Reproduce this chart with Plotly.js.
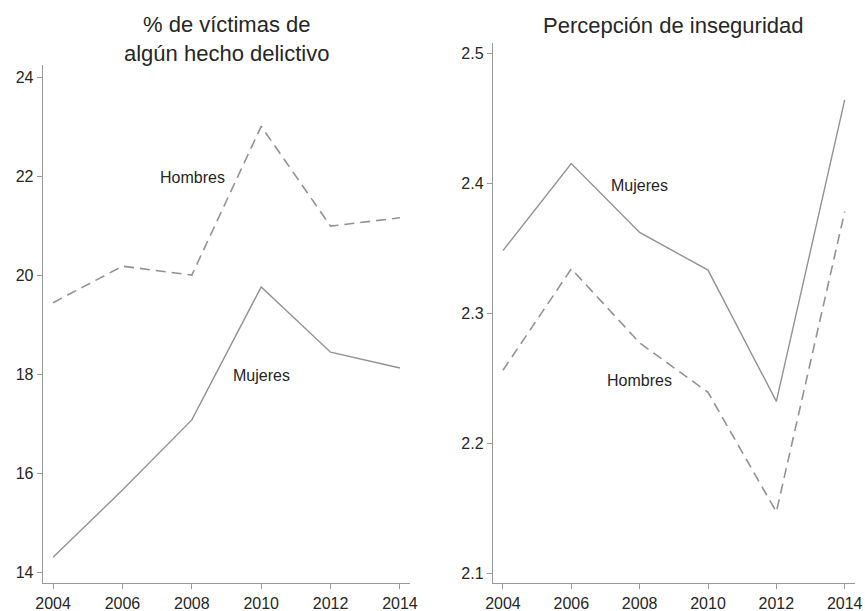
<!DOCTYPE html>
<html>
<head>
<meta charset="utf-8">
<script src="https://cdn.plot.ly/plotly-3.0.1.min.js"></script>
<style>html,body{margin:0;padding:0;background:#fff;}#chart{width:865px;height:611px;}</style>
</head>
<body>
<div id="chart"></div>
<script>
const years = [2004, 2006, 2008, 2010, 2012, 2014];
const victHombres = [19.45, 20.19, 20.01, 23.02, 21.0, 21.17];
const victMujeres = [14.3, 15.66, 17.08, 19.77, 18.45, 18.13];
const percMujeres = [2.348, 2.415, 2.362, 2.333, 2.232, 2.464];
const percHombres = [2.256, 2.334, 2.277, 2.239, 2.147, 2.378];
const leftTitle = "% de víctimas de<br>algún hecho delictivo";
const rightTitle = "Percepción de inseguridad";
const leftTicks = [14, 16, 18, 20, 22, 24];
const rightTicks = [2.1, 2.2, 2.3, 2.4, 2.5];

const lineCol = "#929292";
const axCol = "#999999";
const txtCol = "#262626";
const font = "Liberation Sans, Arial, sans-serif";

const traces = [
  {x: years, y: victHombres, xaxis: "x", yaxis: "y", mode: "lines",
   line: {color: lineCol, width: 1.6, dash: "10px,6px"}, hoverinfo: "none"},
  {x: years, y: victMujeres, xaxis: "x", yaxis: "y", mode: "lines",
   line: {color: lineCol, width: 1.4}, hoverinfo: "none"},
  {x: years, y: percMujeres, xaxis: "x2", yaxis: "y2", mode: "lines",
   line: {color: lineCol, width: 1.4}, hoverinfo: "none"},
  {x: years, y: percHombres, xaxis: "x2", yaxis: "y2", mode: "lines",
   line: {color: lineCol, width: 1.6, dash: "10px,6px"}, hoverinfo: "none"}
];

const axBase = {
  showgrid: false, zeroline: false, showline: true, linecolor: axCol, linewidth: 1.3,
  ticks: "outside", ticklen: 5, tickcolor: axCol, tickwidth: 1,
  tickfont: {family: font, size: 16, color: txtCol}
};

const layout = {
  width: 865, height: 611,
  margin: {l: 0, r: 0, t: 0, b: 0},
  paper_bgcolor: "#fff", plot_bgcolor: "#fff",
  showlegend: false,
  xaxis: Object.assign({}, axBase, {domain: [0.0497, 0.474], range: [2003.71, 2014.29],
    tickvals: years, ticktext: years.map(String), anchor: "y"}),
  yaxis: Object.assign({}, axBase, {domain: [0.0458, 0.8936], range: [13.78, 24.26],
    tickvals: leftTicks, ticktext: leftTicks.map(String), anchor: "x"}),
  xaxis2: Object.assign({}, axBase, {domain: [0.570, 0.988], range: [2003.71, 2014.29],
    tickvals: years, ticktext: years.map(String), anchor: "y2"}),
  yaxis2: Object.assign({}, axBase, {domain: [0.0458, 0.9296], range: [2.0923, 2.5077],
    tickvals: rightTicks, ticktext: rightTicks.map(v => v.toFixed(1)), anchor: "x2"}),
  annotations: [
    {text: leftTitle, xref: "paper", yref: "paper", x: 227/865, y: 1 - 39/611,
     xanchor: "center", yanchor: "middle", showarrow: false,
     font: {family: font, size: 22, color: txtCol}},
    {text: rightTitle, xref: "paper", yref: "paper", x: 673/865, y: 1 - 26/611,
     xanchor: "center", yanchor: "middle", showarrow: false,
     font: {family: font, size: 22, color: txtCol}},
    {text: "Hombres", xref: "x", yref: "y", x: 2008.03, y: 21.98, showarrow: false,
     font: {family: font, size: 16, color: txtCol}},
    {text: "Mujeres", xref: "x", yref: "y", x: 2010.02, y: 17.97, showarrow: false,
     font: {family: font, size: 16, color: txtCol}},
    {text: "Mujeres", xref: "x2", yref: "y2", x: 2008.0, y: 2.398, showarrow: false,
     font: {family: font, size: 16, color: txtCol}},
    {text: "Hombres", xref: "x2", yref: "y2", x: 2008.0, y: 2.248, showarrow: false,
     font: {family: font, size: 16, color: txtCol}}
  ]
};

Plotly.newPlot("chart", traces, layout, {staticPlot: true, displayModeBar: false});
</script>
</body>
</html>
